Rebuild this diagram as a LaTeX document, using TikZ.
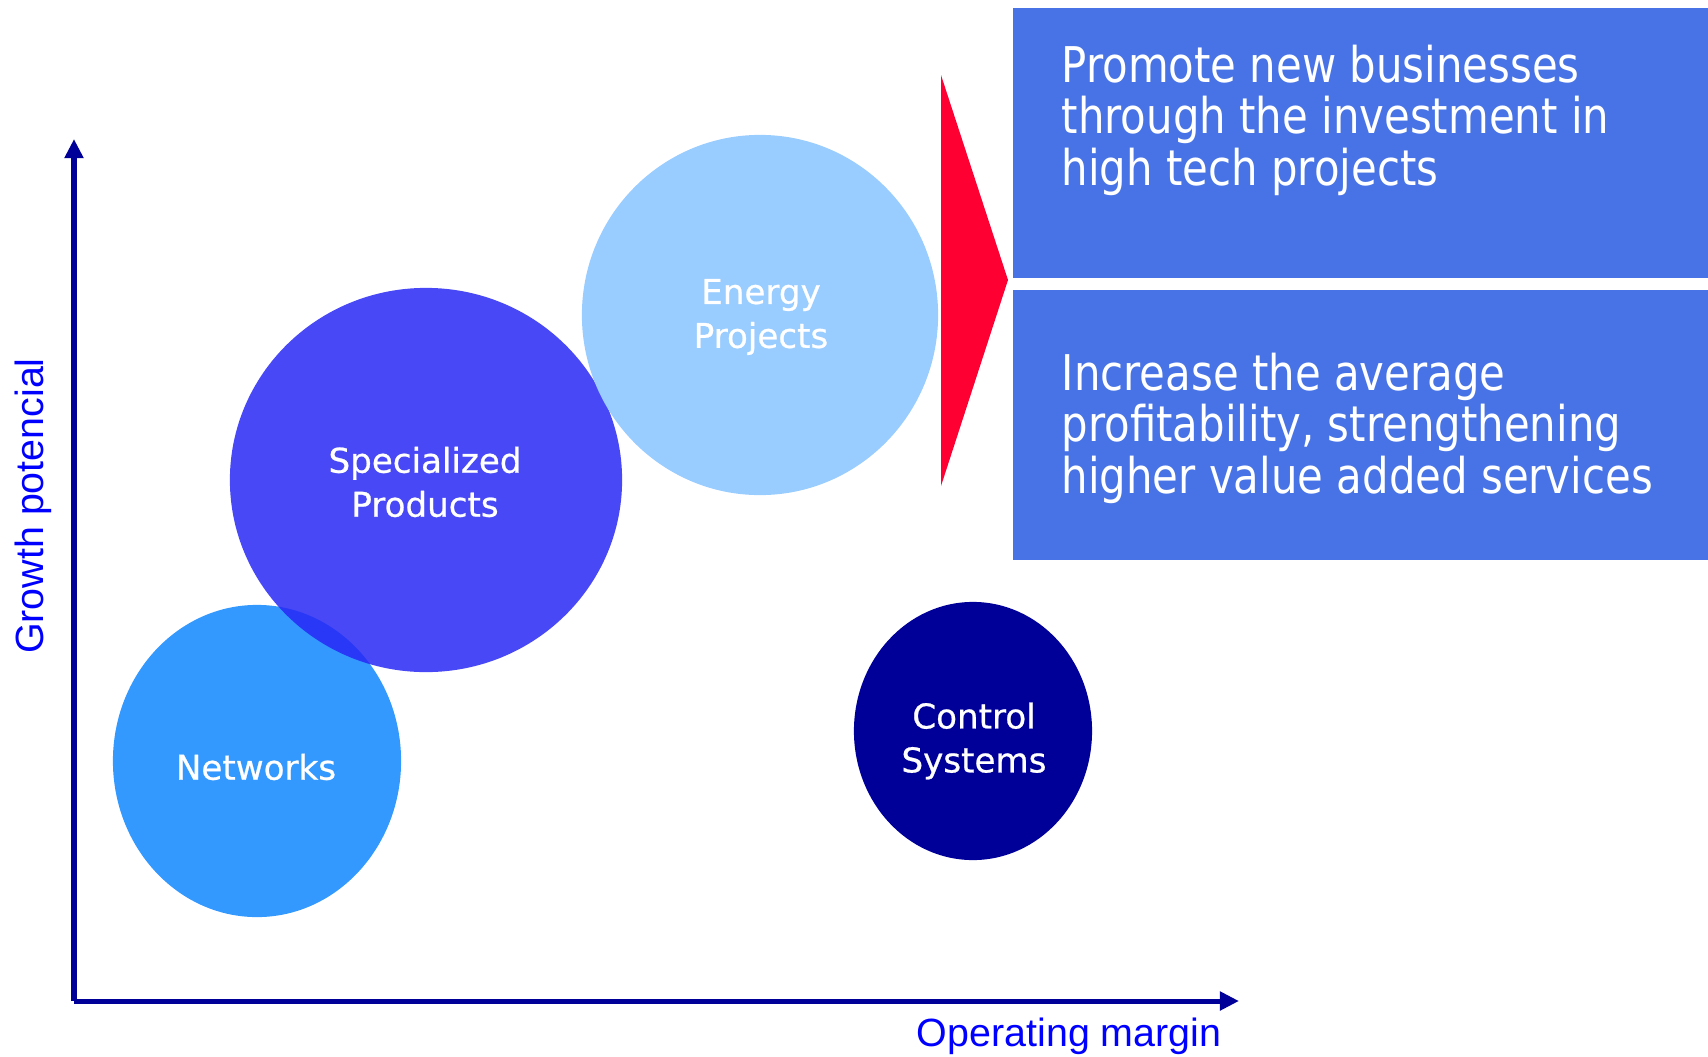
\documentclass[tikz,border=0pt]{standalone}
\usepackage{fontspec}
\usetikzlibrary{shapes.geometric,arrows.meta}
\newfontfamily\tahoma[FakeStretch=0.85]{DejaVu Sans}
\newfontfamily\bubblefont[FakeBold=0.7]{DejaVu Sans}
\newfontfamily\arialfont{Liberation Sans}
\definecolor{navy}{RGB}{0,0,153}
\definecolor{labelblue}{RGB}{0,0,255}
\definecolor{netblue}{RGB}{51,153,255}
\definecolor{specblue}{RGB}{40,40,245}
\definecolor{energyblue}{RGB}{153,204,255}
\definecolor{goalblue}{RGB}{71,115,230}
\definecolor{pointred}{RGB}{255,0,51}

\begin{document}
\begin{tikzpicture}[x=0.01cm, y=-0.01cm,
    bubble/.style={ellipse, inner sep=0pt},
    bubbletext/.style={inner sep=0pt, text=white, align=center, font=\bubblefont\fontsize{9.7}{12.5}\selectfont},
    axis/.style={draw=navy, line width=0.05cm, -{Triangle[width=0.18cm,length=0.19cm]}},
    axislabel/.style={text=labelblue, inner sep=0pt, font=\arialfont\fontsize{11.2}{13}\selectfont},
    goalbox/.style={fill=goalblue, anchor=north west, inner sep=0pt, minimum width=6.96cm, minimum height=2.70cm},
    goaltext/.style={anchor=north west, inner sep=0pt, text=white, align=left, font=\tahoma\fontsize{14}{14.65}\selectfont}]

    \useasboundingbox (0,0) rectangle (1708,1057);

    \coordinate (O) at (74,1001);
    \coordinate (ytip) at (74,139);
    \coordinate (xtip) at (1239,1001);
    \draw [axis] (O) -- (ytip);
    \draw [axis] (O) -- (xtip);

    \node [axislabel, anchor=base east] (xlabel) at (1222,1046) {Operating margin};
    \node [axislabel, rotate=90, anchor=base] (ylabel) at (44,506) {Growth potencial};

    \node [bubble, fill=netblue, minimum width=2.88cm, minimum height=3.12cm] (net) at (257,761) {};
    \node [bubble, fill=specblue, fill opacity=0.85, minimum width=3.92cm, minimum height=3.84cm] (spec) at (426,480) {};
    \node [bubble, fill=energyblue, minimum width=3.56cm, minimum height=3.60cm] (energy) at (760,315) {};
    \node [bubble, fill=navy, minimum width=2.38cm, minimum height=2.58cm] (ctrl) at (973,731) {};

    \node [bubbletext] (netlabel) at (256,767) {Networks};
    \node [bubbletext] (speclabel) at (425,482) {Specialized\\Products};
    \node [bubbletext] (energylabel) at (761,317) {Energy\\Projects};
    \node [bubbletext] (ctrllabel) at (974,741) {Control\\Systems};

    \fill [pointred] (941,75) -- (1008,280) -- (941,486) -- cycle;

    \node [goalbox] (top) at (1012,7) {};
    \node [goalbox] (bottom) at (1012,289) {};
    \node [goaltext] (promote) at (1061,44) {Promote new businesses\\through the investment in\\high tech projects};
    \node [goaltext] (increase) at (1061,352) {Increase the average\\profitability, strengthening\\higher value added services};
\end{tikzpicture}
\end{document}
